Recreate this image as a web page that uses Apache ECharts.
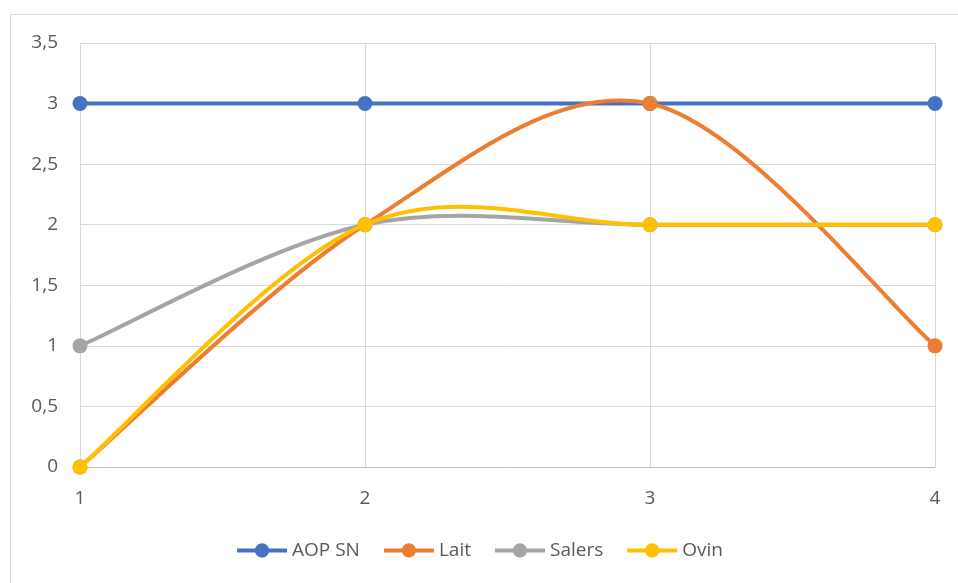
<!DOCTYPE html>
<html>
<head>
<meta charset="utf-8">
<script src="https://cdn.jsdelivr.net/npm/echarts@6/dist/echarts.min.js"></script>
<style>
html,body{margin:0;padding:0;background:#fff;}
#chart{width:958px;height:583px;}
</style>
</head>
<body>
<div id="chart"></div>
<script>
const xValues = [1, 2, 3, 4];
const seriesNames = ['AOP SN', 'Lait', 'Salers', 'Ovin'];
const aopSN = [3, 3, 3, 3];
const lait = [0, 2, 3, 1];
const salers = [1, 2, 2, 2];
const ovin = [0, 2, 2, 2];
const colors = ['#4472C4', '#ED7D31', '#A5A5A5', '#FFC000'];

const values = [aopSN, lait, salers, ovin];
const FONT = '"Open Sans", sans-serif';

// Excel-like smoothed curve (Catmull-Rom, 1/6 tangent) drawn through axis coords
function makeRenderItem(vals, color) {
  return function (params, api) {
    if (params.dataIndex !== 0) return null;
    const pts = vals.map((v, j) => api.coord([xValues[j], v]));
    const n = pts.length;
    let d = 'M' + pts[0][0] + ' ' + pts[0][1];
    for (let i = 0; i < n - 1; i++) {
      const p0 = pts[Math.max(i - 1, 0)], p1 = pts[i], p2 = pts[i + 1], p3 = pts[Math.min(i + 2, n - 1)];
      const c1x = p1[0] + (p2[0] - p0[0]) / 6, c1y = p1[1] + (p2[1] - p0[1]) / 6;
      const c2x = p2[0] - (p3[0] - p1[0]) / 6, c2y = p2[1] - (p3[1] - p1[1]) / 6;
      d += ' C' + c1x + ' ' + c1y + ' ' + c2x + ' ' + c2y + ' ' + p2[0] + ' ' + p2[1];
    }
    return {
      type: 'path',
      shape: {pathData: d},
      style: {fill: 'none', stroke: color, lineWidth: 4, lineCap: 'round', lineJoin: 'round'},
      silent: true
    };
  };
}

const lineSeries = values.map((vals, i) => ({
  name: seriesNames[i],
  type: 'line',
  z: 3,
  data: vals.map((v, j) => [xValues[j], v]),
  symbol: 'circle',
  symbolSize: 15,
  lineStyle: {width: 4, color: colors[i], opacity: 0},
  itemStyle: {color: colors[i]}
}));
const curveSeries = values.map((vals, i) => ({
  name: seriesNames[i],
  type: 'custom',
  z: 2,
  coordinateSystem: 'cartesian2d',
  data: vals.map((v, j) => [xValues[j], v]),
  renderItem: makeRenderItem(vals, colors[i])
}));

const chart = echarts.init(document.getElementById('chart'));
chart.setOption({
  animation: false,
  backgroundColor: '#fff',
  graphic: [{
    type: 'rect',
    shape: {x: 10.5, y: 14.5, width: 1000, height: 1000},
    style: {fill: 'none', stroke: '#D9D9D9', lineWidth: 1},
    silent: true, z: -10
  }],
  grid: {left: 80, right: 23, top: 43, bottom: 116},
  legend: {
    bottom: 18, left: 'center',
    itemWidth: 50, itemHeight: 18, itemGap: 22,
    lineStyle: {width: 4, opacity: 1},
    textStyle: {fontFamily: FONT, fontSize: 19, color: '#595959'},
    data: seriesNames
  },
  xAxis: {
    type: 'value', min: 1, max: 4, interval: 1,
    axisLine: {show: true, lineStyle: {color: '#BFBFBF', width: 1}},
    axisTick: {show: false},
    splitLine: {show: true, lineStyle: {color: '#D9D9D9', width: 1}},
    axisLabel: {margin: 22, fontFamily: FONT, fontSize: 19, color: '#595959'}
  },
  yAxis: {
    type: 'value', min: 0, max: 3.5, interval: 0.5,
    axisLine: {show: false},
    axisTick: {show: false},
    splitLine: {show: true, lineStyle: {color: '#D9D9D9', width: 1}},
    axisLabel: {margin: 22, fontFamily: FONT, fontSize: 19, color: '#595959',
      formatter: v => String(v).replace('.', ',')}
  },
  series: lineSeries.concat(curveSeries)
});
</script>
</body>
</html>
